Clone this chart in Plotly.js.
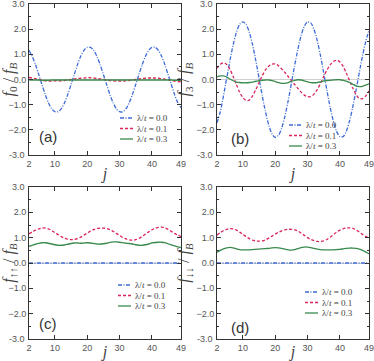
<!DOCTYPE html>
<html>
<head>
<meta charset="utf-8">
<script src="https://cdn.plot.ly/plotly-3.0.1.min.js"></script>
<style>
  body { margin: 0; background: #fff; }
  #plot { width: 374px; height: 361px; }
</style>
</head>
<body>
<div id="plot"></div>
<script>
// site index j
var jVals = [2,3,4,5,6,7,8,9,10,11,12,13,14,15,16,17,18,19,20,21,22,23,24,25,
  26,27,28,29,30,31,32,33,34,35,36,37,38,39,40,41,42,43,44,45,46,47,48,49];

var lambdaLabels = ["0.0", "0.1", "0.3"];
var xTicks = [2, 10, 20, 30, 40, 49];
var yTicks = [-2, -1, 0, 1, 2];
var yEnds = [-3, 3];   // end labels, drawn as annotations (plotly drops them at shared edges)

// (a) f0 / fB
var f0_l00 = [1.16,0.92,0.59,0.20,-0.20,-0.59,-0.92,-1.16,-1.28,-1.28,-1.16,-0.92,-0.59,-0.20,0.20,0.59,
  0.92,1.16,1.28,1.28,1.16,0.92,0.59,0.20,-0.20,-0.59,-0.92,-1.16,-1.28,-1.28,-1.16,-0.92,
  -0.59,-0.20,0.20,0.59,0.92,1.16,1.28,1.28,1.16,0.92,0.59,0.20,-0.20,-0.59,-0.92,-1.12];
var f0_l01 = [0.08,0.06,0.03,0.00,-0.03,-0.05,-0.06,-0.06,-0.05,-0.05,-0.05,-0.04,-0.02,0.00,0.02,0.04,
  0.05,0.06,0.07,0.07,0.06,0.04,0.02,0.00,-0.02,-0.04,-0.05,-0.06,-0.06,-0.06,-0.05,-0.04,
  -0.02,0.00,0.02,0.04,0.05,0.06,0.06,0.06,0.05,0.03,0.01,-0.01,-0.04,-0.06,-0.08,-0.09];
var f0_l03 = [-0.01,-0.02,-0.02,-0.02,-0.03,-0.03,-0.03,-0.02,-0.02,-0.02,-0.02,-0.02,-0.02,-0.02,-0.02,-0.02,
  -0.02,-0.02,-0.02,-0.02,-0.02,-0.02,-0.02,-0.02,-0.02,-0.02,-0.02,-0.02,-0.02,-0.02,-0.02,-0.02,
  -0.02,-0.02,-0.02,-0.02,-0.02,-0.02,-0.02,-0.02,-0.02,-0.02,-0.02,-0.02,-0.02,-0.03,-0.03,-0.03];

// (b) f3 / fB
var f3_l00 = [-1.72,-1.29,-0.65,0.05,0.75,1.38,1.87,2.19,2.29,2.19,1.87,1.38,0.75,0.05,-0.65,-1.29,
  -1.81,-2.16,-2.30,-2.22,-1.93,-1.46,-0.85,-0.16,0.55,1.20,1.74,2.12,2.29,2.25,1.99,1.54,
  0.95,0.26,-0.44,-1.11,-1.67,-2.07,-2.27,-2.27,-2.05,-1.64,-1.08,-0.42,0.28,0.94,1.51,1.95];
var f3_l01 = [0.45,0.60,0.66,0.60,0.40,0.12,-0.20,-0.50,-0.72,-0.83,-0.82,-0.65,-0.40,-0.12,0.15,0.38,
  0.53,0.61,0.62,0.55,0.42,0.28,0.12,-0.05,-0.20,-0.35,-0.50,-0.62,-0.68,-0.68,-0.58,-0.40,
  -0.15,0.12,0.38,0.58,0.72,0.76,0.70,0.52,0.25,-0.05,-0.35,-0.60,-0.75,-0.76,-0.65,-0.45];
var f3_l03 = [0.10,0.14,0.14,0.10,0.02,-0.05,-0.10,-0.12,-0.13,-0.13,-0.12,-0.10,-0.07,-0.05,-0.03,-0.02,
  -0.02,-0.04,-0.08,-0.12,-0.15,-0.15,-0.12,-0.07,-0.03,-0.01,-0.02,-0.05,-0.09,-0.12,-0.13,-0.12,
  -0.09,-0.06,-0.04,-0.03,-0.02,-0.01,-0.01,-0.03,-0.06,-0.12,-0.19,-0.25,-0.28,-0.27,-0.22,-0.17];

// (c) f_upup / fB
var fuu_l00 = [0,0,0,0,0,0,0,0,0,0,0,0,0,0,0,0,0,0,0,0,0,0,0,0,
  0,0,0,0,0,0,0,0,0,0,0,0,0,0,0,0,0,0,0,0,0,0,0,0];
var fuu_l01 = [1.15,1.23,1.30,1.35,1.38,1.38,1.35,1.28,1.20,1.12,1.04,0.98,0.94,0.92,0.93,0.96,
  1.02,1.10,1.18,1.26,1.32,1.36,1.38,1.38,1.36,1.32,1.25,1.17,1.09,1.01,0.95,0.91,
  0.90,0.92,0.97,1.05,1.14,1.23,1.31,1.37,1.41,1.42,1.39,1.33,1.25,1.17,1.10,1.05];
var fuu_l03 = [0.66,0.70,0.74,0.77,0.80,0.80,0.78,0.75,0.72,0.70,0.70,0.71,0.74,0.77,0.79,0.79,
  0.78,0.79,0.80,0.79,0.77,0.75,0.75,0.76,0.78,0.81,0.83,0.83,0.82,0.80,0.78,0.77,
  0.75,0.72,0.70,0.70,0.72,0.75,0.79,0.81,0.82,0.82,0.80,0.76,0.72,0.68,0.64,0.61];

// (d) f_dndn / fB
var fdd_l00 = [0,0,0,0,0,0,0,0,0,0,0,0,0,0,0,0,0,0,0,0,0,0,0,0,
  0,0,0,0,0,0,0,0,0,0,0,0,0,0,0,0,0,0,0,0,0,0,0,0];
var fdd_l01 = [1.10,1.20,1.28,1.33,1.36,1.35,1.30,1.22,1.13,1.04,0.96,0.90,0.87,0.86,0.87,0.91,
  0.98,1.06,1.14,1.21,1.27,1.31,1.33,1.33,1.31,1.26,1.18,1.09,1.00,0.93,0.88,0.85,
  0.85,0.87,0.93,1.02,1.12,1.22,1.30,1.35,1.38,1.39,1.37,1.31,1.22,1.13,1.05,0.99];
var fdd_l03 = [0.42,0.50,0.56,0.60,0.62,0.60,0.56,0.53,0.52,0.52,0.52,0.53,0.54,0.55,0.56,0.57,
  0.58,0.60,0.61,0.60,0.58,0.55,0.52,0.51,0.53,0.57,0.61,0.63,0.63,0.61,0.58,0.55,
  0.53,0.52,0.52,0.52,0.52,0.53,0.54,0.56,0.58,0.59,0.59,0.58,0.55,0.50,0.43,0.37];

var W = 374, H = 361;
var styles = [
  { color: "#3c6bd6", dash: "4px,1.5px,1px,1.5px" },
  { color: "#dc2458", dash: "3px,2px" },
  { color: "#3a8a4e", dash: "solid" }
];

// panel boxes in pixels: left, right, top, bottom
var panels = [
  { tag: "(a)", ylab: "<i>f</i><sub>0</sub> / <i>f</i><sub><i>B</i></sub>",
    series: [f0_l00, f0_l01, f0_l03], box: [29, 181, 4, 155],
    leg: { x: 120, y: 118 }, lab: { x: 37, y: 137 } },
  { tag: "(b)", ylab: "<i>f</i><sub>3</sub> / <i>f</i><sub><i>B</i></sub>",
    series: [f3_l00, f3_l01, f3_l03], box: [217, 369, 4, 155],
    leg: { x: 289, y: 125 }, lab: { x: 229, y: 138 } },
  { tag: "(c)", ylab: "<i>f</i><sub>↑↑</sub> / <i>f</i><sub><i>B</i></sub>",
    series: [fuu_l00, fuu_l01, fuu_l03], box: [29, 181, 187, 339],
    leg: { x: 118, y: 285 }, lab: { x: 37, y: 323 } },
  { tag: "(d)", ylab: "<i>f</i><sub>↓↓</sub> / <i>f</i><sub><i>B</i></sub>",
    series: [fdd_l00, fdd_l01, fdd_l03], box: [217, 369, 187, 339],
    leg: { x: 305, y: 292 }, lab: { x: 229, y: 327 } }
];

var data = [];
var layout = {
  width: W, height: H,
  margin: { l: 0, r: 0, t: 0, b: 0 },
  paper_bgcolor: "#fff", plot_bgcolor: "#fff",
  showlegend: false,
  font: { family: "Liberation Sans, Arial, sans-serif", size: 9, color: "#555" },
  shapes: [], annotations: []
};

function px(x) { return x / W; }
function py(y) { return 1 - y / H; }

panels.forEach(function (p, k) {
  var n = k + 1;
  var xa = "xaxis" + (n === 1 ? "" : n), ya = "yaxis" + (n === 1 ? "" : n);
  var xr = "x" + (n === 1 ? "" : n), yr = "y" + (n === 1 ? "" : n);
  p.series.forEach(function (s, i) {
    data.push({
      x: jVals, y: s, xaxis: xr, yaxis: yr, type: "scatter", mode: "lines",
      line: { color: styles[i].color, dash: styles[i].dash, width: 1.3, shape: "spline", smoothing: 0.8 },
      name: "λ/t = " + lambdaLabels[i]
    });
  });
  layout[xa] = {
    domain: [px(p.box[0]), px(p.box[1])], anchor: yr,
    range: [2, 49], tickmode: "array", tickvals: xTicks,
    ticks: "inside", ticklen: 4, tickcolor: "#333", mirror: "ticks",
    showline: true, linecolor: "#333", linewidth: 1, showgrid: false, zeroline: false,
    ticklabeloverflow: "allow",
    tickfont: { size: 9, color: "#555" },
    title: { text: "<i>j</i>", font: { family: "Liberation Serif, serif", size: 16, color: "#444" }, standoff: 0 }
  };
  layout[ya] = {
    domain: [py(p.box[3]), py(p.box[2])], anchor: xr,
    range: [-3, 3], tickmode: "array", tickvals: yTicks, tickformat: ".1f",
    ticks: "inside", ticklen: 4, tickcolor: "#333", mirror: "ticks",
    minor: { dtick: 0.5, ticks: "inside", ticklen: 2, tickcolor: "#333" },
    showline: true, linecolor: "#333", linewidth: 1, showgrid: false,
    zeroline: true, zerolinecolor: "#d0d0d0", zerolinewidth: 1,
    ticklabeloverflow: "allow",
    tickfont: { size: 9, color: "#555" },
    title: { text: p.ylab, font: { family: "Liberation Serif, serif", size: 16, color: "#444" }, standoff: 2 }
  };
  yEnds.forEach(function (v) {
    layout.annotations.push({
      xref: xr + " domain", yref: yr, x: 0, y: v, xanchor: "right", yanchor: "middle",
      xshift: -2, showarrow: false, text: v.toFixed(1),
      font: { family: "Liberation Sans, Arial, sans-serif", size: 9, color: "#555" }
    });
  });
  // panel tag
  layout.annotations.push({
    xref: "paper", yref: "paper", x: px(p.lab.x), y: py(p.lab.y),
    xanchor: "left", yanchor: "middle", showarrow: false, text: p.tag,
    font: { family: "Liberation Sans, Arial, sans-serif", size: 15, color: "#333" }
  });
  // hand-drawn legend
  lambdaLabels.forEach(function (lab, i) {
    var yy = p.leg.y + i * 10.5;
    layout.shapes.push({
      type: "line", xref: "paper", yref: "paper",
      x0: px(p.leg.x), x1: px(p.leg.x + 13), y0: py(yy), y1: py(yy),
      line: { color: styles[i].color, dash: styles[i].dash, width: 1.3 }
    });
    layout.annotations.push({
      xref: "paper", yref: "paper", x: px(p.leg.x + 15), y: py(yy),
      xanchor: "left", yanchor: "middle", showarrow: false,
      text: "λ/<i>t</i> = " + lab,
      font: { family: "Liberation Serif, serif", size: 9, color: "#444" }
    });
  });
});

Plotly.newPlot("plot", data, layout, { staticPlot: true });
</script>
</body>
</html>
